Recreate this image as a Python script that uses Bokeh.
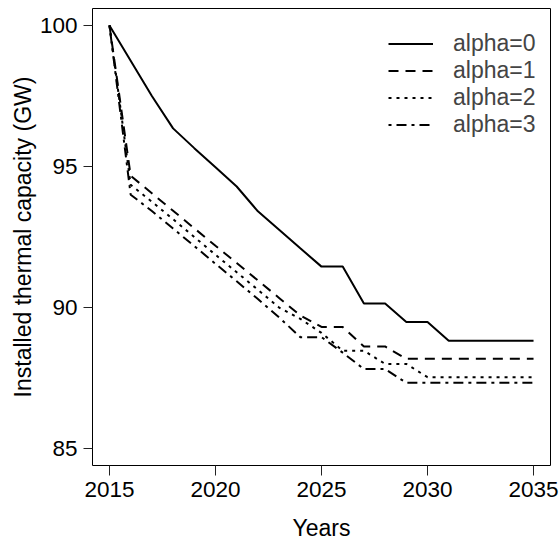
from bokeh.plotting import figure
from bokeh.models import Range1d, FixedTicker, Legend, LegendItem
from bokeh.embed import file_html
from bokeh.resources import INLINE

years = list(range(2015, 2036))
alpha0 = [100, 98.75, 97.5, 96.35, 95.65, 94.97, 94.29, 93.41, 92.76, 92.1, 91.45,
          91.45, 90.14, 90.14, 89.49, 89.49, 88.82, 88.82, 88.82, 88.82, 88.82]
alpha1 = [100, 94.67, 94.05, 93.43, 92.81, 92.19, 91.58, 90.96, 90.34, 89.72, 89.31,
          89.31, 88.62, 88.62, 88.18, 88.18, 88.18, 88.18, 88.18, 88.18, 88.18]
alpha2 = [100, 94.35, 93.75, 93.13, 92.5, 91.87, 91.25, 90.63, 90.0, 89.6, 89.1,
          88.47, 88.47, 88.0, 88.0, 87.53, 87.53, 87.53, 87.53, 87.53, 87.53]
alpha3 = [100, 94.0, 93.42, 92.8, 92.18, 91.55, 90.93, 90.3, 89.65, 88.95, 88.95,
          88.4, 87.82, 87.82, 87.33, 87.33, 87.33, 87.33, 87.33, 87.33, 87.33]
series_names = ["alpha=0", "alpha=1", "alpha=2", "alpha=3"]
x_ticks = [2015, 2020, 2025, 2030, 2035]
y_ticks = [85, 90, 95, 100]

FONT = "Liberation Sans"

p = figure(width=559, height=543, output_backend="svg", toolbar_location=None,
           x_range=Range1d(2014.2, 2035.8), y_range=Range1d(84.4, 100.6),
           min_border_left=92, min_border_right=9, min_border_top=8, min_border_bottom=76,
           x_axis_label="Years", y_axis_label="Installed thermal capacity (GW)")
p.background_fill_color = "white"
p.border_fill_color = "white"
p.outline_line_color = "black"
p.outline_line_width = 1
p.xgrid.visible = False
p.ygrid.visible = False

for ax in (p.xaxis[0], p.yaxis[0]):
    ax.axis_line_color = None
    ax.major_tick_in = 0
    ax.minor_tick_line_color = None
    ax.major_tick_line_color = "#222222"
    ax.major_label_text_font = FONT
    ax.major_label_text_font_size = "22.5px"
    ax.major_label_text_color = "black"
    ax.axis_label_text_font = FONT
    ax.axis_label_text_font_size = "23px"
    ax.axis_label_text_font_style = "normal"
    ax.axis_label_text_color = "black"

p.xaxis.ticker = FixedTicker(ticks=x_ticks)
p.yaxis.ticker = FixedTicker(ticks=y_ticks)
p.xaxis.major_tick_out = 10
p.yaxis.major_tick_out = 9
p.xaxis.major_label_standoff = 6
p.yaxis.major_label_standoff = 6
p.xaxis.axis_label_standoff = 15
p.yaxis.axis_label_standoff = 1

dashes = ["solid", "10 7", "3 5", "3 5 10 5"]
items = []
for name, ys, dash in zip(series_names, [alpha0, alpha1, alpha2, alpha3], dashes):
    r = p.line(years, ys, line_color="black", line_width=2, line_dash=dash)
    items.append(LegendItem(label=name, renderers=[r]))

legend = Legend(items=items, location=(296, 327), border_line_color=None,
                background_fill_alpha=0, padding=0, margin=0, spacing=0,
                glyph_width=45, glyph_height=27, label_height=27, label_standoff=20,
                label_text_font=FONT, label_text_font_size="23px")
p.add_layout(legend)

open("out.html", "w").write(file_html(p, INLINE))
